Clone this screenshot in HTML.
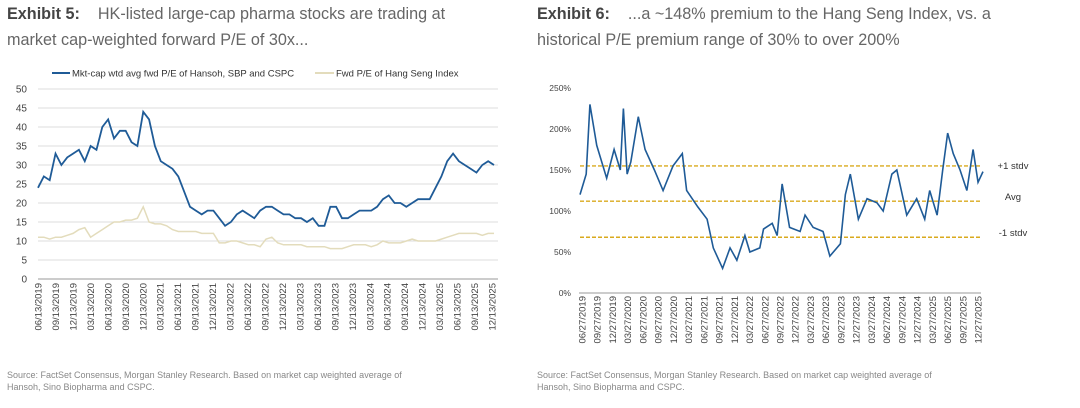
<!DOCTYPE html>
<html><head><meta charset="utf-8"><style>
body{margin:0;background:#fff;width:1080px;height:408px;overflow:hidden;font-family:"Liberation Sans",sans-serif}
.t{position:absolute;font-size:16.2px;color:#666;white-space:nowrap;line-height:26px}
.t b{color:#444}
.src{position:absolute;font-size:9px;color:#888;line-height:12px}
</style></head><body>
<div class="t" style="left:7px;top:1px"><b>Exhibit 5:</b>&nbsp;&nbsp;&nbsp;&nbsp;HK-listed large-cap pharma stocks are trading at<br>market cap-weighted forward P/E of 30x...</div>
<div class="t" style="left:537px;top:1px"><b>Exhibit 6:</b>&nbsp;&nbsp;&nbsp;&nbsp;...a ~148% premium to the Hang Seng Index, vs. a<br>historical P/E premium range of 30% to over 200%</div>
<div class="src" style="left:7px;top:369px">Source: FactSet Consensus, Morgan Stanley Research. Based on market cap weighted average of<br>Hansoh, Sino Biopharma and CSPC.</div>
<div class="src" style="left:537px;top:369px">Source: FactSet Consensus, Morgan Stanley Research. Based on market cap weighted average of<br>Hansoh, Sino Biopharma and CSPC.</div>
<svg id="c" width="1080" height="408" style="position:absolute;left:0;top:0"></svg>
<script>
const peValues=[24,27,26,33,30,32,33,34,31,35,34,40,42,37,39,39,36,35,44,42,35,31,30,29,27,23,19,18,17,18,18,16,14,15,17,18,17,16,18,19,19,18,17,17,16,16,15,16,14,14,19,19,16,16,17,18,18,18,19,21,22,20,20,19,20,21,21,21,24,27,31,33,31,30,29,28,30,31,30];
const hsiValues=[11,11,10.5,11,11,11.5,12,13,13.5,11,12,13,14,15,15,15.5,15.5,16,19,15,14.5,14.5,14,13,12.5,12.5,12.5,12.5,12,12,12,9.5,9.5,10,10,9.5,9,9,8.5,10.5,11,9.5,9,9,9,9,8.5,8.5,8.5,8.5,8,8,8,8.5,9,9,9,8.5,9,10,9.5,9.5,9.5,10,10.5,10,10,10,10,10.5,11,11.5,12,12,12,12,11.5,12,12];
const leftTicks=[0,5,10,15,20,25,30,35,40,45,50];
const leftDates=[];for(let y=2019;y<=2025;y++)for(const m of ['03','06','09','12']){if(y==2019&&m=='03')continue;leftDates.push(m+'/13/'+y);}
const premDates=[2019.5,2019.6,2019.66,2019.77,2019.93,2020.05,2020.15,2020.2,2020.26,2020.32,2020.44,2020.55,2020.7,2020.84,2021.0,2021.15,2021.22,2021.4,2021.55,2021.65,2021.8,2021.92,2022.03,2022.16,2022.24,2022.4,2022.46,2022.6,2022.68,2022.76,2022.88,2023.05,2023.13,2023.26,2023.42,2023.53,2023.7,2023.78,2023.86,2023.99,2024.13,2024.29,2024.39,2024.53,2024.61,2024.77,2024.93,2025.06,2025.14,2025.26,2025.35,2025.43,2025.52,2025.63,2025.74,2025.84,2025.92,2026.0];
const premValues=[120,145,230,180,140,175,150,225,145,160,215,175,150,125,155,170,125,105,90,55,30,55,40,70,50,55,78,85,70,133,80,75,95,80,75,45,60,120,145,90,115,110,100,145,150,95,115,90,125,95,150,195,170,150,125,175,135,148];
const rightTicks=[0,50,100,150,200,250];
const refLines=[{v:155,l:'+1 stdv'},{v:112,l:'Avg'},{v:68,l:'-1 stdv'}];
const rightDates=[];for(let y=2019;y<=2025;y++)for(const m of ['03','06','09','12']){if(y==2019&&m=='03')continue;rightDates.push(m+'/27/'+y);}

const svg=document.getElementById('c');const NS='http://www.w3.org/2000/svg';
function mk(t,a,p){const e=document.createElementNS(NS,t);for(const k in a)e.setAttribute(k,a[k]);(p||svg).appendChild(e);return e;}
const LX0=38,LX1=494,LY0=279,LY1=89;
const ly=v=>LY0-(v/50)*(LY0-LY1);
const lxi=i=>LX0+i*(LX1-LX0)/(peValues.length-1);
leftTicks.forEach(t=>{
 const g=mk('line',{x1:LX0,x2:498,y1:ly(t),y2:ly(t),stroke:t==0?'#999':'#ddd','stroke-width':1});
 
 const tx=mk('text',{x:27,y:ly(t)+3.5,'text-anchor':'end','font-size':10,fill:'#444'});tx.textContent=t;
 
});
leftDates.forEach((d,i)=>{
 const x=LX0+i*(492-LX0)/(leftDates.length-1);
 const tx=mk('text',{x:0,y:0,transform:`translate(${x+3.5},${LY0+4}) rotate(-90)`,'text-anchor':'end','font-size':9.5,fill:'#444'});tx.textContent=d;
 
});
const hp=mk('polyline',{points:hsiValues.map((v,i)=>lxi(i)+','+ly(v)).join(' '),fill:'none',stroke:'#e3dcbc','stroke-width':1.5});

const pp=mk('polyline',{points:peValues.map((v,i)=>lxi(i)+','+ly(v)).join(' '),fill:'none',stroke:'#1f5b97','stroke-width':1.8});

mk('line',{x1:52,x2:70,y1:73,y2:73,stroke:'#1f5b97','stroke-width':2});
let lt=mk('text',{x:72,y:76.5,'font-size':9.5,fill:'#333'});lt.textContent='Mkt-cap wtd avg fwd P/E of Hansoh, SBP and CSPC';

mk('line',{x1:315,x2:334,y1:73,y2:73,stroke:'#e3dcbc','stroke-width':2});
lt=mk('text',{x:336,y:76.5,'font-size':9.5,fill:'#333'});lt.textContent='Fwd P/E of Hang Seng Index';

const RX0=580,RX1=983,RY0=293,RY1=88,D0=2019.5,D1=2026.0;
const ry=v=>RY0-(v/250)*(RY0-RY1);
const rx=d=>RX0+(d-D0)/(D1-D0)*(RX1-RX0);
rightTicks.forEach(t=>{
 const tx=mk('text',{x:571,y:ry(t)+3,'text-anchor':'end','font-size':8.5,fill:'#444'});tx.textContent=t+'%';
 
});
mk('line',{x1:579,x2:981,y1:RY0,y2:RY0,stroke:'#999','stroke-width':1});
rightDates.forEach((d,i)=>{
 const x=582+i*(978-582)/(rightDates.length-1);
 const tx=mk('text',{x:0,y:0,transform:`translate(${x+3.5},${RY0+3}) rotate(-90)`,'text-anchor':'end','font-size':9.5,fill:'#444'});tx.textContent=d;
 
});
refLines.forEach(r=>{
 const l=mk('line',{x1:RX0,x2:982,y1:ry(r.v),y2:ry(r.v),stroke:'#d9aa1e','stroke-width':1.4,'stroke-dasharray':'4,2'});
 
});
const labY=[166,197,233];
refLines.forEach((r,i)=>{
 const tx=mk('text',{x:1013,y:labY[i]+3,'text-anchor':'middle','font-size':9.5,fill:'#333'});tx.textContent=r.l;
 
});
const rp=mk('polyline',{points:premValues.map((v,i)=>rx(premDates[i])+','+ry(v)).join(' '),fill:'none',stroke:'#1f5b97','stroke-width':1.6});

</script>
</body></html>
